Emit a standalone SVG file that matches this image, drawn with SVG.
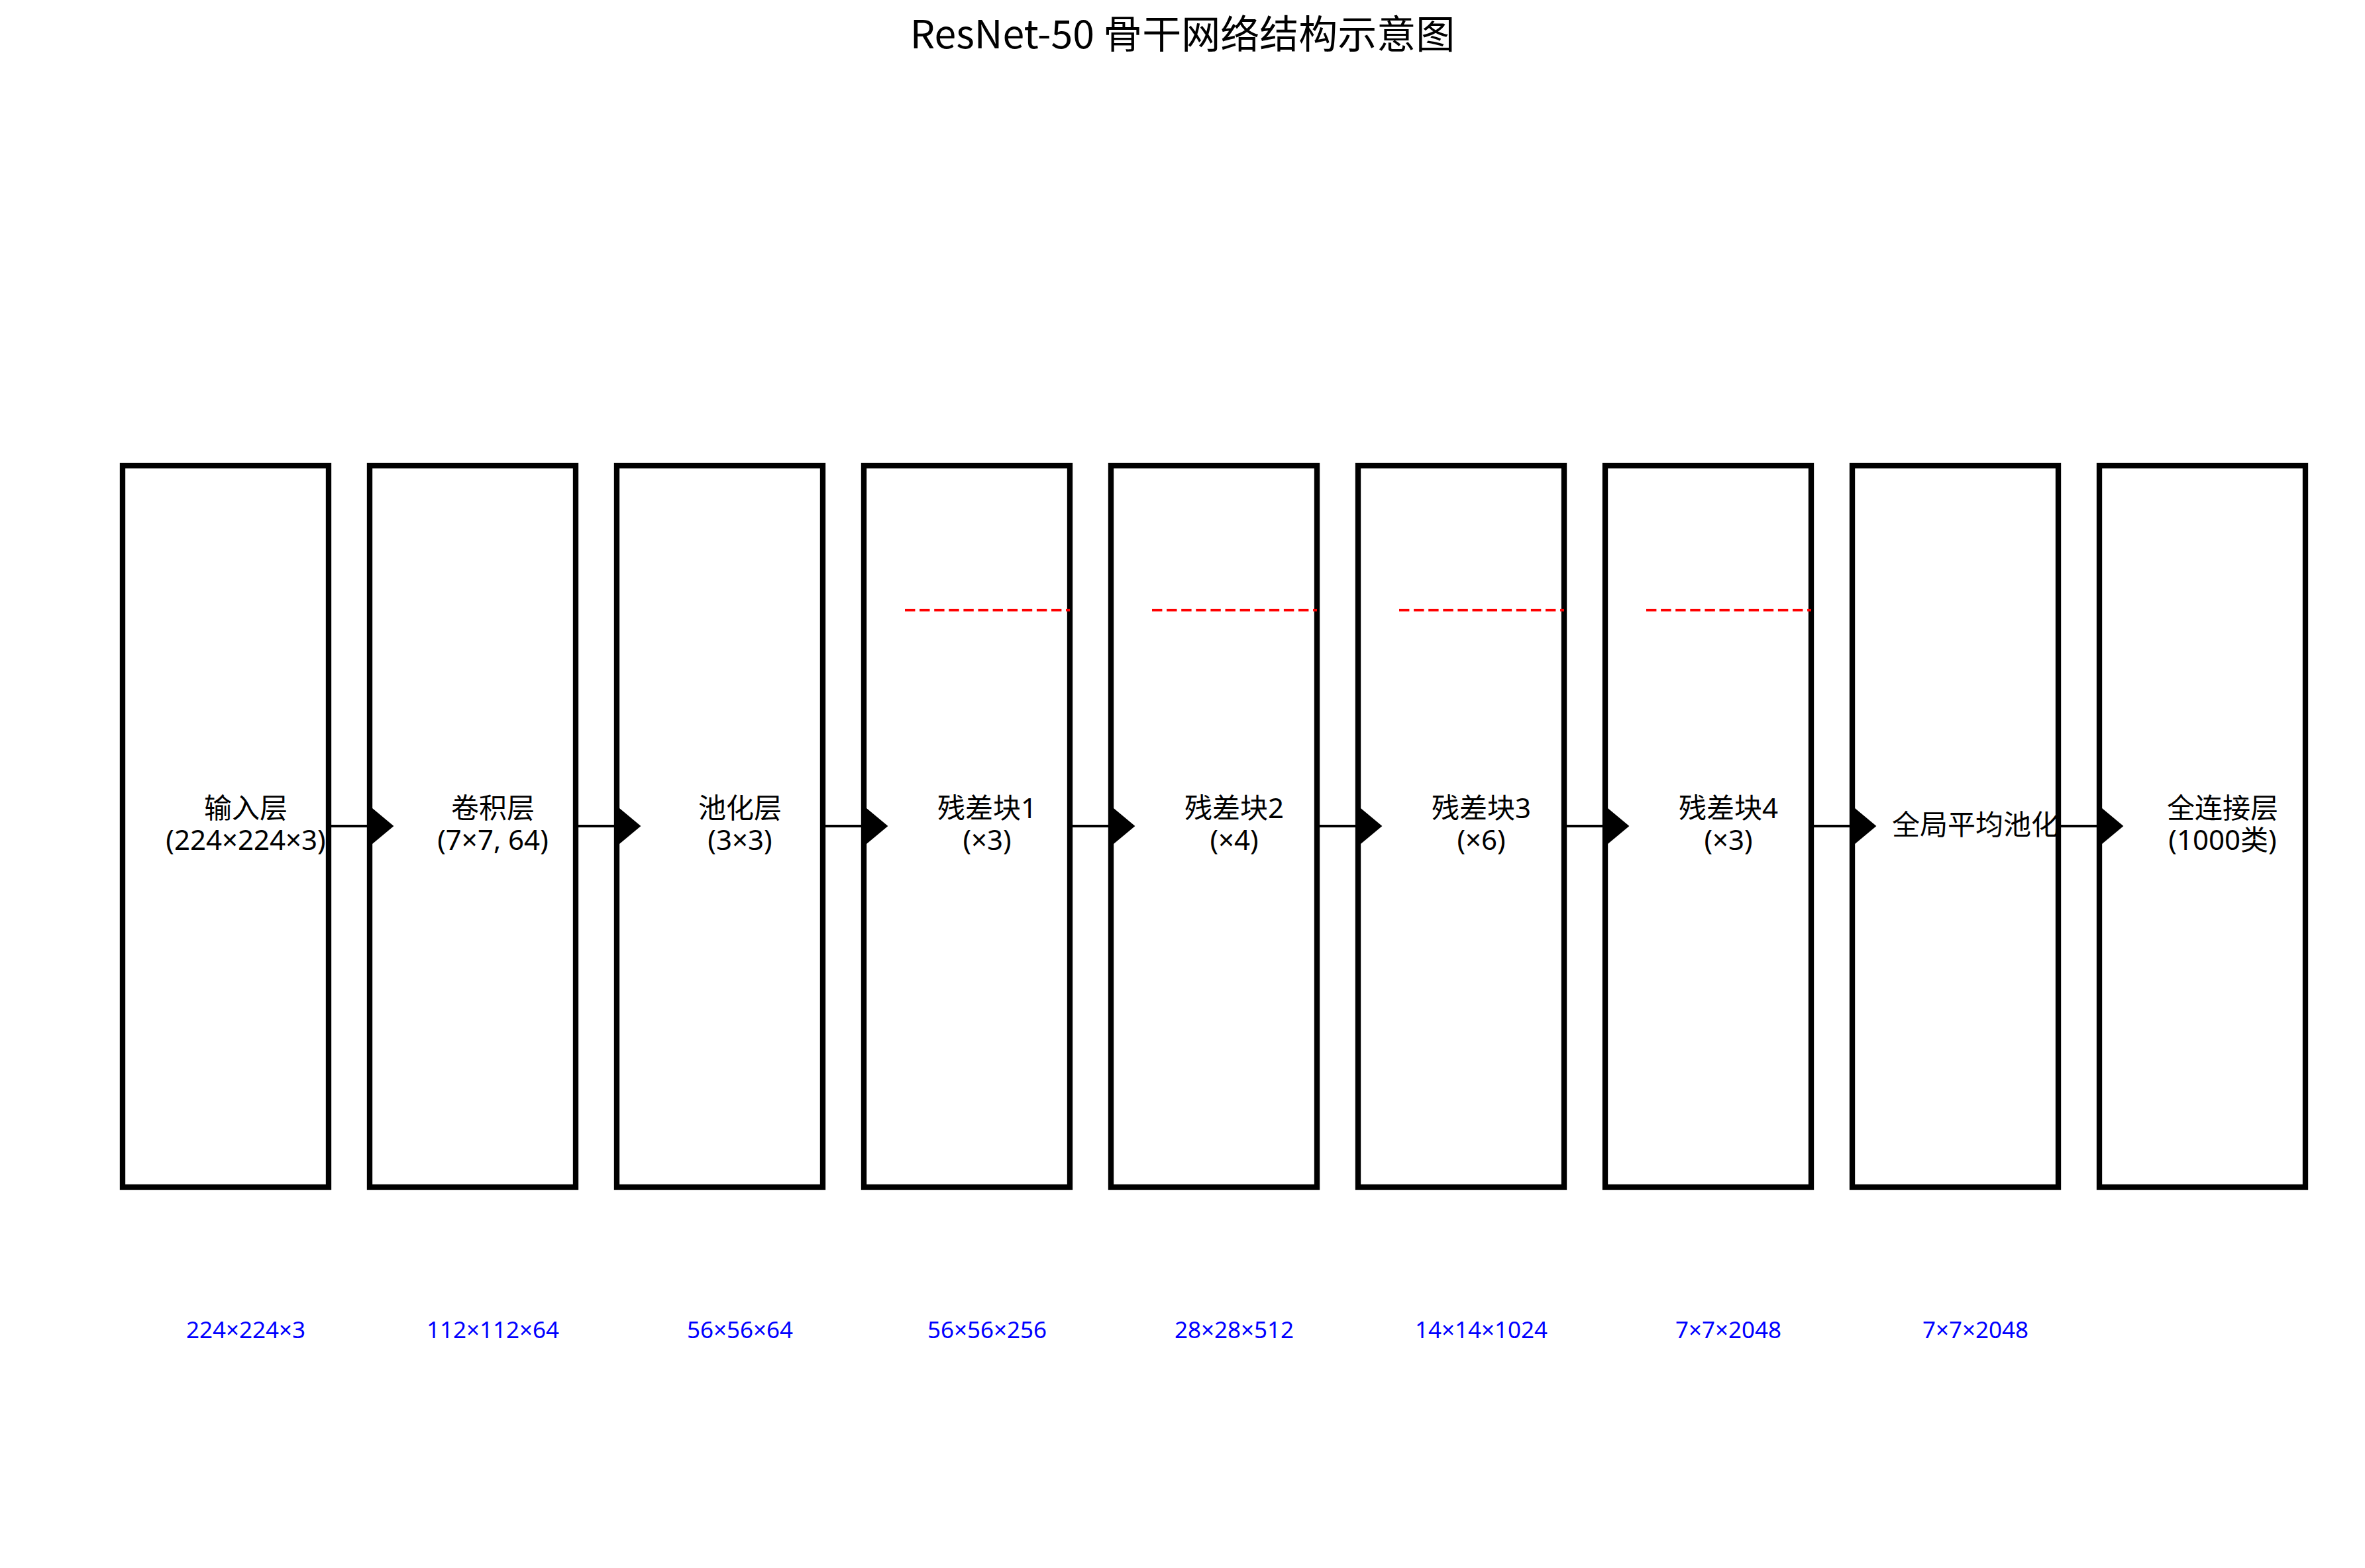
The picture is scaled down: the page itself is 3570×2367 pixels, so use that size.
<svg xmlns="http://www.w3.org/2000/svg" width="3570" height="2367" viewBox="0 0 3570 2367">
<style>
  .bg { fill: #ffffff; }
  .box { fill: #ffffff; stroke: #000000; stroke-width: 8.33; }
  .lbl { font-family: "Noto Sans", "Noto Sans CJK SC", sans-serif; font-size: 42px; fill: #000000; text-anchor: middle; }
  .dim { font-family: "Noto Sans", "Noto Sans CJK SC", sans-serif; font-size: 35px; fill: #0000ff; text-anchor: middle; }
  .title { font-family: "Noto Sans CJK SC", "Noto Sans", sans-serif; font-size: 59px; fill: #000000; text-anchor: middle; }
  .res { stroke: #ff0000; stroke-width: 4.17; stroke-dasharray: 15.4 6.7; fill: none; }
  .conn { stroke: #000000; stroke-width: 4.17; fill: none; marker-end: url(#ah); }
</style>
<defs>
  <marker id="ah" markerUnits="userSpaceOnUse" markerWidth="40" markerHeight="64" viewBox="0 0 36 60" refX="0" refY="30" orient="auto">
    <path d="M0,0 L36,30 L0,60 Z" fill="#000000"/>
  </marker>
</defs>
<rect class="bg" x="0" y="0" width="3570" height="2367"/>
<text id="title" class="title" x="1785" y="73">ResNet-50 骨干网络结构示意图</text>

<g id="node-input">
  <rect class="box" x="185" y="703" width="311" height="1089"/>
  <text class="lbl" x="371" y="1235">输入层<tspan x="371" dy="48">(224×224×3)</tspan></text>
  <text class="dim" x="371" y="2020">224×224×3</text>
</g>
<g id="node-conv">
  <rect class="box" x="558" y="703" width="311" height="1089"/>
  <text class="lbl" x="744" y="1235">卷积层<tspan x="744" dy="48">(7×7, 64)</tspan></text>
  <text class="dim" x="744" y="2020">112×112×64</text>
</g>
<g id="node-pool">
  <rect class="box" x="931" y="703" width="311" height="1089"/>
  <text class="lbl" x="1117" y="1235">池化层<tspan x="1117" dy="48">(3×3)</tspan></text>
  <text class="dim" x="1117" y="2020">56×56×64</text>
</g>
<g id="node-res1">
  <rect class="box" x="1304" y="703" width="311" height="1089"/>
  <line class="res" x1="1366" y1="921" x2="1615" y2="921"/>
  <text class="lbl" x="1490" y="1235">残差块1<tspan x="1490" dy="48">(×3)</tspan></text>
  <text class="dim" x="1490" y="2020">56×56×256</text>
</g>
<g id="node-res2">
  <rect class="box" x="1677" y="703" width="311" height="1089"/>
  <line class="res" x1="1739" y1="921" x2="1988" y2="921"/>
  <text class="lbl" x="1863" y="1235">残差块2<tspan x="1863" dy="48">(×4)</tspan></text>
  <text class="dim" x="1863" y="2020">28×28×512</text>
</g>
<g id="node-res3">
  <rect class="box" x="2050" y="703" width="311" height="1089"/>
  <line class="res" x1="2112" y1="921" x2="2361" y2="921"/>
  <text class="lbl" x="2236" y="1235">残差块3<tspan x="2236" dy="48">(×6)</tspan></text>
  <text class="dim" x="2236" y="2020">14×14×1024</text>
</g>
<g id="node-res4">
  <rect class="box" x="2423" y="703" width="311" height="1089"/>
  <line class="res" x1="2485" y1="921" x2="2734" y2="921"/>
  <text class="lbl" x="2609" y="1235">残差块4<tspan x="2609" dy="48">(×3)</tspan></text>
  <text class="dim" x="2609" y="2020">7×7×2048</text>
</g>
<g id="node-gap">
  <rect class="box" x="2796" y="703" width="311" height="1089"/>
  <text class="lbl" x="2982" y="1260">全局平均池化</text>
  <text class="dim" x="2982" y="2020">7×7×2048</text>
</g>
<g id="node-fc">
  <rect class="box" x="3169" y="703" width="311" height="1089"/>
  <text class="lbl" x="3355" y="1235">全连接层<tspan x="3355" dy="48">(1000类)</tspan></text>
</g>

<g id="connectors">
  <line class="conn" x1="496" y1="1247" x2="556" y2="1247"/>
  <line class="conn" x1="869" y1="1247" x2="929" y2="1247"/>
  <line class="conn" x1="1242" y1="1247" x2="1302" y2="1247"/>
  <line class="conn" x1="1615" y1="1247" x2="1675" y2="1247"/>
  <line class="conn" x1="1988" y1="1247" x2="2048" y2="1247"/>
  <line class="conn" x1="2361" y1="1247" x2="2421" y2="1247"/>
  <line class="conn" x1="2734" y1="1247" x2="2794" y2="1247"/>
  <line class="conn" x1="3107" y1="1247" x2="3167" y2="1247"/>
</g>
</svg>
